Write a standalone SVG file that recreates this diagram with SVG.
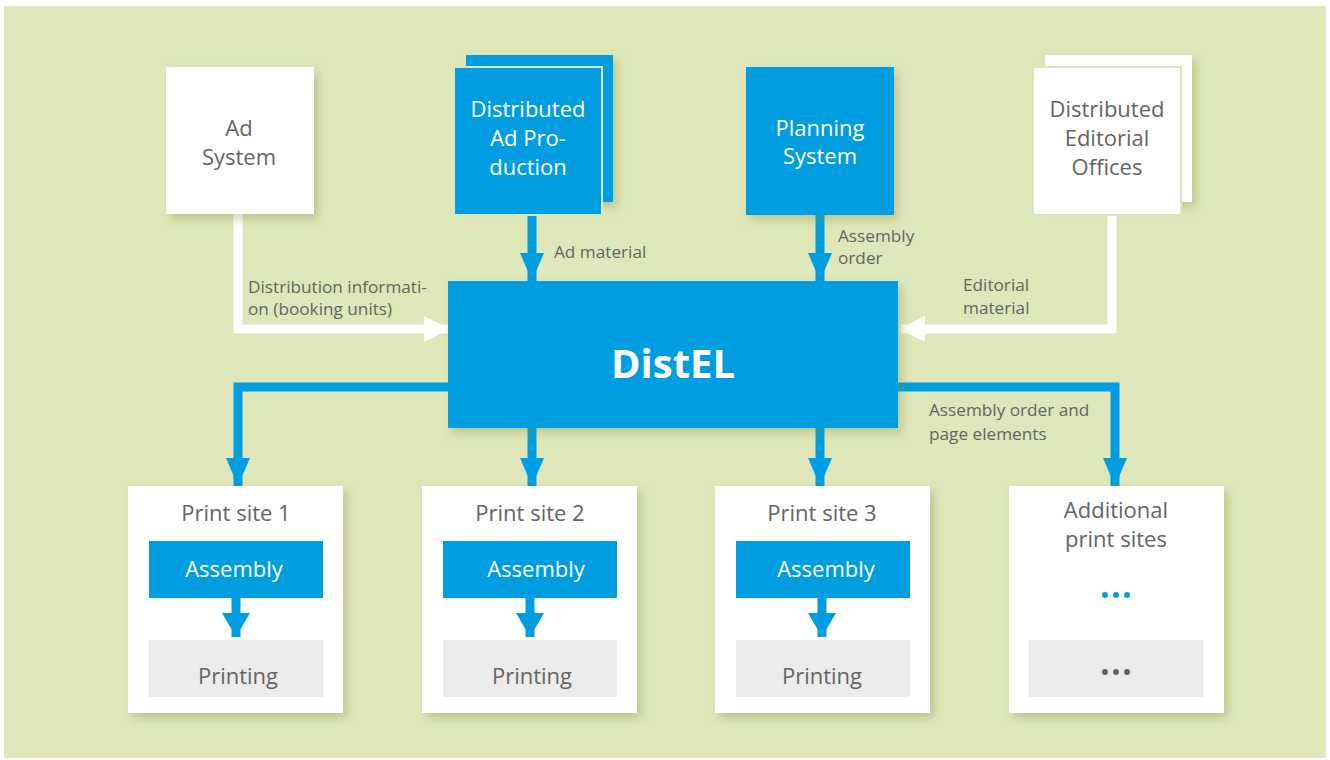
<svg xmlns="http://www.w3.org/2000/svg" width="1330" height="760" viewBox="0 0 1330 760">
<defs>
<filter id="sh" x="-20%" y="-20%" width="150%" height="150%">
<feGaussianBlur in="SourceAlpha" stdDeviation="5"/>
<feOffset dx="4" dy="5" result="b"/>
<feFlood flood-color="#7a8a40" flood-opacity="0.35"/>
<feComposite in2="b" operator="in"/>
<feMerge><feMergeNode/><feMergeNode in="SourceGraphic"/></feMerge>
</filter>
<marker id="ab" viewBox="0 0 28 24" refX="28" refY="12" markerWidth="28" markerHeight="24" markerUnits="userSpaceOnUse" orient="auto"><path d="M0,0 L28,12 L0,24 Z" fill="#009ee0"/></marker>
<marker id="aw" viewBox="0 0 26 26" refX="24" refY="13" markerWidth="26" markerHeight="26" markerUnits="userSpaceOnUse" orient="auto"><path d="M0,0 L26,13 L0,26 Z" fill="#ffffff"/></marker>
<marker id="as" viewBox="0 0 24 28" refX="24" refY="14" markerWidth="24" markerHeight="28" markerUnits="userSpaceOnUse" orient="auto"><path d="M0,0 L24,14 L0,28 Z" fill="#009ee0"/></marker>
</defs>
<style>
.t{font-family:"Open Sans","Noto Sans",sans-serif;}
.g{fill:#646464;}
.w{fill:#ffffff;}
.n{font-size:22px;text-anchor:middle;}
.l{font-size:17.2px;}
.s{font-size:22px;text-anchor:middle;}
.blue{fill:#009ee0;}
.white{fill:#ffffff;}
.grey{fill:#ebeceb;}
.cb{fill:none;stroke:#009ee0;stroke-width:9;}
.cw{fill:none;stroke:#ffffff;stroke-width:9;}
</style>
<rect x="0" y="0" width="1330" height="760" fill="#ffffff"/>
<rect x="4" y="6" width="1322" height="752" fill="#dee7b9"/>

<g id="connectors">
<path class="cw" d="M238,214 V329 H448" marker-end="url(#aw)"/>
<path class="cw" d="M1112,214 V329 H901" marker-end="url(#aw)"/>
<path class="cb" d="M532,215 V281" marker-end="url(#ab)"/>
<path class="cb" d="M820,215 V281" marker-end="url(#ab)"/>
<path class="cb" d="M448,387 H238 V486" marker-end="url(#ab)"/>
<path class="cb" d="M898,387 H1115 V486" marker-end="url(#ab)"/>
<path class="cb" d="M532,428 V486" marker-end="url(#ab)"/>
<path class="cb" d="M820,428 V486" marker-end="url(#ab)"/>
<text class="t g l" x="554" y="258">Ad material</text>
<text class="t g l" x="838" y="242">Assembly</text>
<text class="t g l" x="838" y="264">order</text>
<text class="t g l" x="248" y="293">Distribution informati-</text>
<text class="t g l" x="248" y="315">on (booking units)</text>
<text class="t g l" x="963" y="291">Editorial</text>
<text class="t g l" x="963" y="314">material</text>
<text class="t g l" x="929" y="416">Assembly order and</text>
<text class="t g l" x="929" y="440">page elements</text>
</g>

<g id="ad-system">
<rect class="white" x="166" y="67" width="148" height="147" filter="url(#sh)"/>
<text class="t g n" x="239" y="136">Ad</text>
<text class="t g n" x="239" y="165">System</text>
</g>

<g id="distributed-ad-production">
<rect class="blue" x="466" y="55" width="147" height="147" filter="url(#sh)"/>
<rect class="blue" x="454" y="67" width="148" height="148" stroke="#d9e6c0" stroke-width="2"/>
<text class="t w n" x="528" y="117">Distributed</text>
<text class="t w n" x="528" y="146">Ad Pro-</text>
<text class="t w n" x="528" y="175">duction</text>
</g>

<g id="planning-system">
<rect class="blue" x="746" y="67" width="148" height="148" filter="url(#sh)"/>
<text class="t w n" x="820" y="136">Planning</text>
<text class="t w n" x="820" y="164">System</text>
</g>

<g id="distributed-editorial-offices">
<rect class="white" x="1045" y="55" width="147" height="147" filter="url(#sh)"/>
<rect class="white" x="1033" y="67" width="148" height="148" stroke="#d9e6c0" stroke-width="2"/>
<text class="t g n" x="1107" y="117">Distributed</text>
<text class="t g n" x="1107" y="146">Editorial</text>
<text class="t g n" x="1107" y="175">Offices</text>
</g>

<g id="distel">
<rect class="blue" x="448" y="281" width="450" height="147" filter="url(#sh)"/>
<text class="t w" x="673" y="378" font-size="40" font-weight="bold" text-anchor="middle">DistEL</text>
</g>

<g id="print-site-1">
<rect class="white" x="128" y="486" width="215" height="227" filter="url(#sh)"/>
<text class="t g s" x="236" y="521" font-size="21.5">Print site 1</text>
<rect class="blue" x="149" y="541" width="174" height="57"/>
<text class="t w s" x="234" y="577">Assembly</text>
<path class="cb" d="M236,598 V637" marker-end="url(#as)"/>
<rect class="grey" x="149" y="640" width="174" height="57"/>
<text class="t g s" x="238" y="684">Printing</text>
</g>

<g id="print-site-2">
<rect class="white" x="422" y="486" width="215" height="227" filter="url(#sh)"/>
<text class="t g s" x="530" y="521" font-size="21.5">Print site 2</text>
<rect class="blue" x="443" y="541" width="174" height="57"/>
<text class="t w s" x="536" y="577">Assembly</text>
<path class="cb" d="M530,598 V637" marker-end="url(#as)"/>
<rect class="grey" x="443" y="640" width="174" height="57"/>
<text class="t g s" x="532" y="684">Printing</text>
</g>

<g id="print-site-3">
<rect class="white" x="715" y="486" width="215" height="227" filter="url(#sh)"/>
<text class="t g s" x="822" y="521" font-size="21.5">Print site 3</text>
<rect class="blue" x="736" y="541" width="174" height="57"/>
<text class="t w s" x="826" y="577">Assembly</text>
<path class="cb" d="M822,598 V637" marker-end="url(#as)"/>
<rect class="grey" x="736" y="640" width="174" height="57"/>
<text class="t g s" x="822" y="684">Printing</text>
</g>

<g id="additional-print-sites">
<rect class="white" x="1009" y="486" width="215" height="227" filter="url(#sh)"/>
<text class="t g s" x="1116" y="518" font-size="21">Additional</text>
<text class="t g s" x="1116" y="547" font-size="21">print sites</text>
<circle cx="1105" cy="595" r="3" fill="#009ee0"/>
<circle cx="1116" cy="595" r="3" fill="#009ee0"/>
<circle cx="1127" cy="595" r="3" fill="#009ee0"/>
<rect class="grey" x="1029" y="640" width="174" height="57"/>
<circle cx="1105" cy="672" r="3" fill="#646464"/>
<circle cx="1116" cy="672" r="3" fill="#646464"/>
<circle cx="1127" cy="672" r="3" fill="#646464"/>
</g>
</svg>
